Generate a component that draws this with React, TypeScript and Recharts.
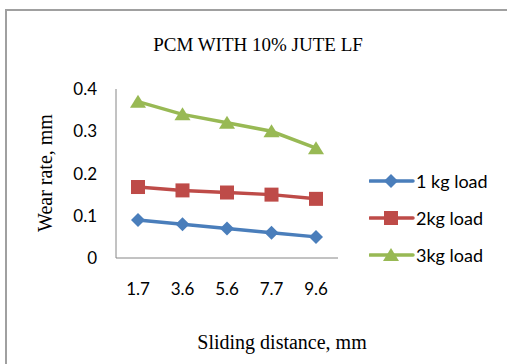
import { LineChart, Line, XAxis, YAxis } from 'recharts'

const distances = ['1.7', '3.6', '5.6', '7.7', '9.6']
const load1 = [0.09, 0.08, 0.07, 0.06, 0.05]
const load2 = [0.168, 0.16, 0.155, 0.15, 0.14]
const load3 = [0.37, 0.34, 0.32, 0.3, 0.26]
const yTicks = [0, 0.1, 0.2, 0.3, 0.4]

const series = [
  { key: 'load1', name: '1 kg load', color: '#4A7EBB', shape: 'diamond' },
  { key: 'load2', name: '2kg load', color: '#BE4B48', shape: 'square' },
  { key: 'load3', name: '3kg load', color: '#98B954', shape: 'triangle' },
]

const data = distances.map((d, i) => ({
  name: d,
  load1: load1[i],
  load2: load2[i],
  load3: load3[i],
}))

const Marker = ({ cx, cy, color, shape }: any) => {
  if (cx == null || cy == null) return null
  if (shape === 'diamond') {
    return <polygon points={`${cx},${cy - 7} ${cx + 7},${cy} ${cx},${cy + 7} ${cx - 7},${cy}`} fill={color} />
  }
  if (shape === 'square') {
    return <rect x={cx - 7} y={cy - 7} width={14} height={14} fill={color} />
  }
  return <polygon points={`${cx},${cy - 7} ${cx + 8},${cy + 6} ${cx - 8},${cy + 6}`} fill={color} />
}

const serif = '"Liberation Serif", serif'
const sans = 'Lato, sans-serif'

const App = () => {
  return (
    <div style={{ position: 'absolute', left: 0, top: 0, width: 507, height: 364, background: '#fff', overflow: 'hidden' }}>
      <div style={{ position: 'absolute', left: 5, top: 9, width: 520, height: 380, borderLeft: '2px solid #A0A0A0', borderTop: '2px solid #A0A0A0' }} />
      <div style={{ position: 'absolute', left: 258, top: 45, transform: 'translate(-50%, -50%)', whiteSpace: 'nowrap', fontFamily: serif, fontSize: 19 }}>
        PCM WITH 10% JUTE LF
      </div>
      <div style={{ position: 'absolute', left: 45, top: 173, transform: 'translate(-50%, -50%) rotate(-90deg)', whiteSpace: 'nowrap', fontFamily: serif, fontSize: 20 }}>
        Wear rate, mm
      </div>
      <div style={{ position: 'absolute', left: 282, top: 342, transform: 'translate(-50%, -50%)', whiteSpace: 'nowrap', fontFamily: serif, fontSize: 20 }}>
        Sliding distance, mm
      </div>
      <LineChart
        width={507}
        height={364}
        data={data}
        margin={{ top: 89, right: 169, bottom: 66, left: 56 }}
        style={{ position: 'absolute', left: 0, top: 0 }}
      >
        <XAxis
          dataKey="name"
          height={40}
          padding={{ left: 22, right: 22 }}
          tickLine={false}
          tickSize={0}
          tickMargin={25}
          stroke="#868686"
          tick={{ fill: '#000', fontFamily: sans, fontSize: 17 }}
        />
        <YAxis
          width={60}
          domain={[0, 0.4]}
          ticks={yTicks}
          tickFormatter={(v: number) => String(v)}
          tickLine={false}
          tickSize={0}
          tickMargin={19}
          stroke="#868686"
          tick={{ fill: '#000', fontFamily: sans, fontSize: 17 }}
        />
        {series.map((s) => (
          <Line
            key={s.key}
            dataKey={s.key}
            name={s.name}
            stroke={s.color}
            strokeWidth={3.5}
            isAnimationActive={false}
            dot={(p: any) => <Marker key={`${s.key}-${p.index}`} cx={p.cx} cy={p.cy} color={s.color} shape={s.shape} />}
            activeDot={false}
          />
        ))}
      </LineChart>
      <div style={{ position: 'absolute', left: 369, top: 162, fontFamily: sans, fontSize: 18, color: '#000' }}>
        {series.map((s) => (
          <div key={s.key} style={{ display: 'flex', alignItems: 'center', height: 37 }}>
            <svg width={46} height={16}>
              <line x1={1} y1={8} x2={44} y2={8} stroke={s.color} strokeWidth={3.5} strokeLinecap="round" />
              <Marker cx={22} cy={8} color={s.color} shape={s.shape} />
            </svg>
            <span style={{ marginLeft: 1 }}>{s.name}</span>
          </div>
        ))}
      </div>
    </div>
  )
}

export default App
